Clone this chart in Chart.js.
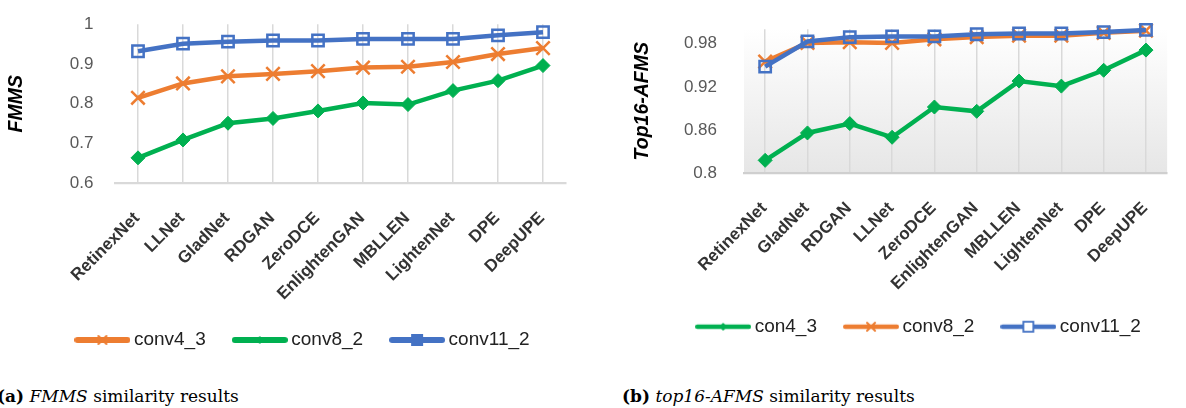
<!DOCTYPE html>
<html>
<head>
<meta charset="utf-8">
<script src="https://cdn.jsdelivr.net/npm/chart.js@4.4.1/dist/chart.umd.min.js"></script>
<style>
  html, body { margin: 0; padding: 0; background: #fff; width: 1186px; height: 408px; overflow: hidden; }
  canvas { position: absolute; top: 0; }
  #fmms { left: 0; }
  #afms { left: 600px; }
  .caption {
    position: absolute; top: 388px; white-space: nowrap; color: #000;
    font-family: 'DejaVu Serif', 'Liberation Serif', serif; font-size: 17px; line-height: 17px;
  }
</style>
</head>
<body>
<canvas id="fmms" width="600" height="374"></canvas>
<canvas id="afms" width="586" height="364"></canvas>
<div class="caption" style="left:-3px"><b>(a)</b> <i>FMMS</i> similarity results</div>
<div class="caption" style="left:622px"><b>(b)</b> <i>top16-AFMS</i> similarity results</div>
<script>
// ---- (a) FMMS similarity per enhancement method ----
const fmmsMethods = ['RetinexNet', 'LLNet', 'GladNet', 'RDGAN', 'ZeroDCE', 'EnlightenGAN', 'MBLLEN', 'LightenNet', 'DPE', 'DeepUPE'];
const fmmsConv4_3  = [0.815, 0.851, 0.869, 0.875, 0.882, 0.891, 0.893, 0.905, 0.925, 0.940];
const fmmsConv8_2  = [0.664, 0.709, 0.751, 0.763, 0.782, 0.802, 0.798, 0.833, 0.858, 0.896];
const fmmsConv11_2 = [0.932, 0.951, 0.956, 0.959, 0.959, 0.963, 0.963, 0.963, 0.972, 0.980];
const fmmsTicks = [0.6, 0.7, 0.8, 0.9, 1];

// ---- (b) top16-AFMS similarity per enhancement method ----
const afmsMethods = ['RetinexNet', 'GladNet', 'RDGAN', 'LLNet', 'ZeroDCE', 'EnlightenGAN', 'MBLLEN', 'LightenNet', 'DPE', 'DeepUPE'];
const afmsCon4_3   = [0.818, 0.856, 0.869, 0.850, 0.892, 0.886, 0.928, 0.921, 0.943, 0.971];
const afmsConv8_2  = [0.955, 0.981, 0.982, 0.981, 0.986, 0.989, 0.991, 0.991, 0.995, 0.998];
const afmsConv11_2 = [0.948, 0.983, 0.989, 0.990, 0.990, 0.993, 0.994, 0.994, 0.996, 0.999];
const afmsTicks = [0.8, 0.86, 0.92, 0.98];

const ORANGE = '#ED7D31';
const GREEN = '#00B050';
const BLUE = '#4472C4';
const SANS = "'Liberation Sans', Arial, sans-serif";

// Legend swatch: a line segment with the series marker in the middle.
function legendSwatch(color, marker, o) {
  const c = document.createElement('canvas');
  c.width = 56; c.height = 20;
  const g = c.getContext('2d');
  const cx = 28, cy = 10, s = o.size;
  g.strokeStyle = color;
  g.lineCap = 'round';
  g.lineWidth = o.line;
  g.beginPath(); g.moveTo(o.line / 2, cy); g.lineTo(56 - o.line / 2, cy); g.stroke();
  if (marker === 'cross') {
    g.lineWidth = 2;
    g.beginPath();
    g.moveTo(cx - s, cy - s); g.lineTo(cx + s, cy + s);
    g.moveTo(cx + s, cy - s); g.lineTo(cx - s, cy + s);
    g.stroke();
  } else if (marker === 'diamond') {
    g.fillStyle = color;
    g.beginPath();
    g.moveTo(cx, cy - s); g.lineTo(cx + s, cy); g.lineTo(cx, cy + s); g.lineTo(cx - s, cy);
    g.closePath(); g.fill();
  } else if (marker === 'square') {
    if (o.hollow) {
      g.fillStyle = '#fff';
      g.fillRect(cx - s, cy - s, 2 * s, 2 * s);
      g.lineWidth = 1.8;
      g.strokeRect(cx - s, cy - s, 2 * s, 2 * s);
    } else {
      g.fillStyle = color;
      g.fillRect(cx - s, cy - s, 2 * s, 2 * s);
    }
  }
  return c;
}

// Moves the legend row after layout (dx sideways, dy up/down).
const legendShift = {
  id: 'legendShift',
  afterLayout(chart, args, opts) {
    const l = chart.legend;
    if (!l) return;
    const dx = opts.dx || 0, dy = opts.dy || 0;
    l.left += dx; l.right += dx;
    l.top += dy; l.bottom += dy;
  }
};

// Vertical shading of the plot area.
const plotShade = {
  id: 'plotShade',
  beforeDraw(chart, args, opts) {
    if (!opts.to) return;
    const { ctx, chartArea: a } = chart;
    const grad = ctx.createLinearGradient(0, a.top, 0, a.bottom);
    grad.addColorStop(0, opts.from);
    grad.addColorStop(1, opts.to);
    ctx.save();
    ctx.fillStyle = grad;
    ctx.fillRect(a.left, a.top, a.right - a.left, a.bottom - a.top);
    ctx.restore();
  }
};

function series(label, data, color, style, order) {
  const base = {
    label, data, order,
    borderColor: color, borderWidth: 4.5, tension: 0, clip: false,
    pointBorderColor: color, pointHoverRadius: 0
  };
  if (style === 'cross') {
    return Object.assign(base, { pointStyle: 'crossRot', pointRadius: 9.5, pointBorderWidth: 2.5, pointBackgroundColor: color });
  }
  if (style === 'diamond') {
    return Object.assign(base, { pointStyle: 'rectRot', pointRadius: 7, pointBorderWidth: 1, pointBackgroundColor: color });
  }
  return Object.assign(base, { pointStyle: 'rect', pointRadius: 8, pointBorderWidth: 2.5, pointBackgroundColor: 'rgba(0,0,0,0)' });
}

function makeChart(id, p) {
  return new Chart(document.getElementById(id), {
    type: 'line',
    data: { labels: p.labels, datasets: p.datasets },
    plugins: [legendShift, plotShade],
    options: {
      responsive: false,
      animation: false,
      events: [],
      layout: { padding: { top: p.padTop, right: p.padRight, left: 0, bottom: 0 } },
      scales: {
        x: {
          type: 'category',
          offset: true,
          grid: { display: true, offset: false, drawTicks: false, color: '#d9d9d9', lineWidth: 1.5 },
          border: { display: true, color: p.baseColor, width: 2.2 },
          ticks: {
            autoSkip: false, minRotation: 45, maxRotation: 45,
            padding: p.xPad, labelOffset: -1,
            color: '#333333', font: { family: SANS, size: 17, weight: 'bold' }
          },
          afterFit(s) { s.height = p.xHeight; }
        },
        y: {
          min: p.min, max: p.max,
          grid: { display: false },
          border: { display: false },
          ticks: {
            padding: p.yPad, color: '#595959', font: { family: SANS, size: 17 },
            callback: v => String(+Number(v).toFixed(2))
          },
          afterBuildTicks(s) { s.ticks = p.ticks.map(v => ({ value: v })); },
          afterFit(s) { s.width = p.yWidth; },
          title: {
            display: true, text: p.yTitle, color: '#000',
            font: { family: SANS, size: 19.5, style: 'italic', weight: 'bold' },
            padding: { top: p.titlePad, bottom: 0 }
          }
        }
      },
      plugins: {
        tooltip: { enabled: false },
        legendShift: { dx: p.legendDx, dy: p.legendDy },
        plotShade: p.shade || {},
        legend: {
          position: 'bottom',
          labels: {
            usePointStyle: true, pointStyleWidth: 44, boxHeight: 19, padding: 32,
            color: '#222', font: { family: SANS, size: 19 },
            generateLabels(chart) {
              return chart.data.datasets.map((ds, i) => ({
                text: ds.label, datasetIndex: i, hidden: false,
                pointStyle: p.swatches[i], lineWidth: 0,
                fillStyle: 'rgba(0,0,0,0)', strokeStyle: 'rgba(0,0,0,0)', fontColor: '#222'
              }));
            }
          }
        }
      }
    }
  });
}

makeChart('fmms', {
  labels: fmmsMethods,
  datasets: [
    series('conv4_3', fmmsConv4_3, ORANGE, 'cross', 0),
    series('conv8_2', fmmsConv8_2, GREEN, 'diamond', 0),
    series('conv11_2', fmmsConv11_2, BLUE, 'square', 0)
  ],
  swatches: [
    legendSwatch(ORANGE, 'cross', { line: 6, size: 4 }),
    legendSwatch(GREEN, 'diamond', { line: 6, size: 4 }),
    legendSwatch(BLUE, 'square', { line: 6, size: 6 })
  ],
  min: 0.6, max: 1, ticks: fmmsTicks,
  yTitle: 'FMMS', titlePad: 5, yWidth: 115.5, yPad: 14,
  padTop: 16, padRight: 34.5,
  xHeight: 129.7, xPad: 25, baseColor: '#d9d9d9',
  legendDx: 22.25, legendDy: -14.5
});

makeChart('afms', {
  labels: afmsMethods,
  datasets: [
    series('con4_3', afmsCon4_3, GREEN, 'diamond', 2),
    series('conv8_2', afmsConv8_2, ORANGE, 'cross', 1),
    series('conv11_2', afmsConv11_2, BLUE, 'square', 0)
  ],
  swatches: [
    legendSwatch(GREEN, 'diamond', { line: 4.5, size: 4 }),
    legendSwatch(ORANGE, 'cross', { line: 4.5, size: 4 }),
    legendSwatch(BLUE, 'square', { line: 4.5, size: 5, hollow: true })
  ],
  min: 0.8, max: 1, ticks: afmsTicks,
  yTitle: 'Top16-AFMS', titlePad: 31, yWidth: 144, yPad: 19,
  padTop: 17.7, padRight: 0,
  xHeight: 129.7, xPad: 25, baseColor: '#cfcfcf',
  legendDx: 28, legendDy: -17.8,
  shade: { from: '#ffffff', to: '#e6e6e6' }
});
</script>
</body>
</html>
